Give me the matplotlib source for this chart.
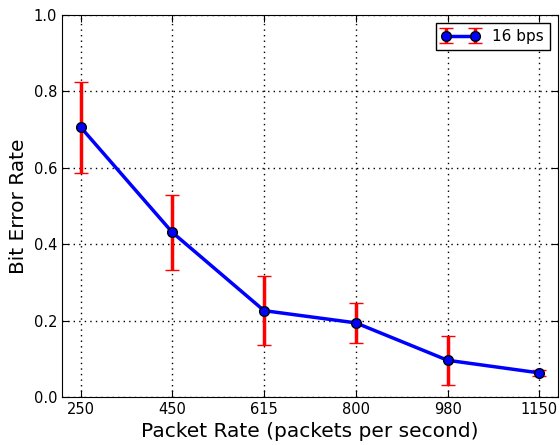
import matplotlib
matplotlib.use("Agg")
import matplotlib.pyplot as plt
import numpy as np

rates = ["250", "450", "615", "800", "980", "1150"]
ber = [0.707, 0.431, 0.226, 0.194, 0.096, 0.063]
err_lo = [0.587, 0.333, 0.135, 0.142, 0.032, 0.056]
err_hi = [0.826, 0.529, 0.317, 0.245, 0.160, 0.070]

x = np.arange(len(rates))
ber_arr = np.array(ber)
yerr = [ber_arr - np.array(err_lo), np.array(err_hi) - ber_arr]

fig = plt.figure(figsize=(5.6, 4.45), dpi=100)
ax = fig.add_axes([0.111, 0.108, 0.885, 0.858])

ax.errorbar(x, ber, yerr=yerr, color="blue", lw=2.5, marker="o", ms=7,
            mfc="blue", mec="black", mew=1, ecolor="red", elinewidth=2.5,
            capsize=5, capthick=1.5, label="16 bps", zorder=3)

ax.set_xlim(-0.2, 5.2)
ax.set_ylim(0, 1.0)
ax.set_xticks(x)
ax.set_xticklabels(rates)
ax.set_yticks(np.arange(0, 1.01, 0.2))
ax.set_yticklabels([f"{v:.1f}" for v in np.arange(0, 1.01, 0.2)])
ax.tick_params(direction="in", top=True, right=True, labelsize=10.5, length=5)
ax.grid(True, linestyle=(0, (1, 3)), color="black", lw=1)
ax.set_xlabel("Packet Rate (packets per second)", fontsize=14.5)
ax.set_ylabel("Bit Error Rate", fontsize=14.5)
ax.legend(loc="upper right", numpoints=2, fontsize=11, fancybox=False,
          edgecolor="black", framealpha=1, handlelength=2.5)

fig.savefig("out.png", dpi=100)
